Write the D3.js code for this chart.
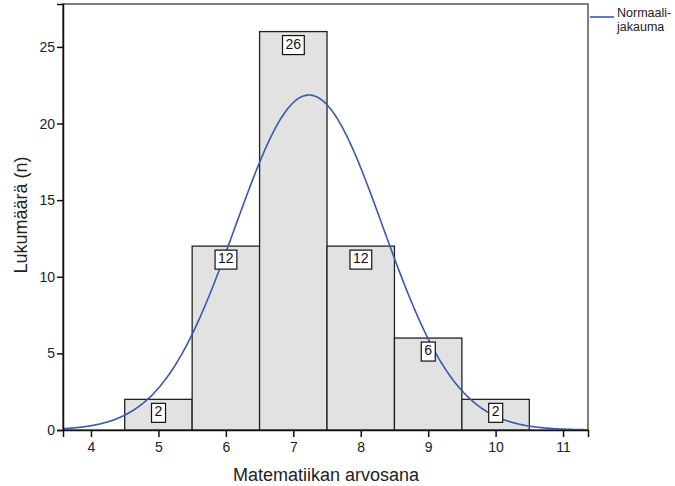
<!DOCTYPE html>
<html>
<head>
<meta charset="utf-8">
<script src="https://cdn.jsdelivr.net/npm/d3@7"></script>
<style>
  body { margin: 0; background: #fff; }
  svg { font-family: Arial, "Liberation Sans", sans-serif; }
</style>
</head>
<body>
<svg id="chart" width="675" height="486"></svg>
<script>
// histogram bins (grade midpoints) and counts
var grades = [5, 6, 7, 8, 9, 10];
var counts = [2, 12, 26, 12, 6, 2];
var xTicks = [4, 5, 6, 7, 8, 9, 10, 11];
var yTicks = [0, 5, 10, 15, 20, 25];

var frame = { left: 63, right: 588, top: 4, bottom: 430 };

var svg = d3.select('#chart');

var x = d3.scaleLinear().domain([3.585, 11.37]).range([frame.left, frame.right]);
var y = d3.scaleLinear().domain([0, 27.8]).range([frame.bottom, frame.top]);

// fitted normal curve from the binned data
var n = d3.sum(counts);
var mean = d3.sum(grades, (g, i) => g * counts[i]) / n;
var ss = d3.sum(grades, (g, i) => counts[i] * (g - mean) * (g - mean));
var sd = Math.sqrt(ss / (n - 1));
var normal = v => n / (sd * Math.sqrt(2 * Math.PI)) * Math.exp(-((v - mean) ** 2) / (2 * sd * sd));

// frame
svg.append('rect')
    .attr('x', frame.left).attr('y', frame.top)
    .attr('width', frame.right - frame.left)
    .attr('height', frame.bottom - frame.top)
    .attr('fill', 'none').attr('stroke', '#555').attr('stroke-width', 1.5);

// bars
svg.append('g')
    .selectAll('rect')
    .data(grades)
    .join('rect')
    .attr('x', d => x(d - 0.5))
    .attr('y', (d, i) => y(counts[i]))
    .attr('width', d => x(d + 0.5) - x(d - 0.5))
    .attr('height', (d, i) => y(0) - y(counts[i]))
    .attr('fill', '#e2e2e2')
    .attr('stroke', '#222')
    .attr('stroke-width', 1.3);

// normal curve
var xs = d3.range(x.domain()[0], x.domain()[1], 0.02);
svg.append('path')
    .datum(xs)
    .attr('fill', 'none')
    .attr('stroke', '#3b58b0')
    .attr('stroke-width', 1.6)
    .attr('d', d3.line().x(d => x(d)).y(d => y(normal(d))).curve(d3.curveBasis));

// value labels
var lab = svg.append('g').selectAll('g')
    .data(grades)
    .join('g')
    .attr('transform', (d, i) => `translate(${x(d)},${y(counts[i]) + 17})`);
lab.append('text')
    .attr('text-anchor', 'middle')
    .attr('font-size', 14)
    .attr('fill', '#111')
    .text((d, i) => counts[i]);
lab.each(function() {
    var g = d3.select(this);
    var bb = g.select('text').node().getBBox();
    g.insert('rect', 'text')
        .attr('x', bb.x - 3).attr('y', -13)
        .attr('width', bb.width + 6).attr('height', 19)
        .attr('fill', '#fff').attr('stroke', '#111').attr('stroke-width', 1.2);
});

// axes
var yAxis = svg.append('g')
    .attr('transform', `translate(${frame.left},0)`)
    .call(d3.axisLeft(y).tickValues(yTicks).tickSize(6).tickPadding(2));
var xAxis = svg.append('g')
    .attr('transform', `translate(0,${frame.bottom})`)
    .call(d3.axisBottom(x).tickValues(xTicks).tickSize(7).tickPadding(5));
[xAxis, yAxis].forEach(a => {
    a.select('.domain').attr('stroke', '#111').attr('stroke-width', 1.5);
    a.selectAll('.tick line').attr('stroke', '#111').attr('stroke-width', 1.5);
    a.selectAll('.tick text').attr('font-size', 14).attr('font-family', 'Arial, "Liberation Sans", sans-serif').attr('fill', '#222');
});

// axis titles
svg.append('text')
    .attr('x', 326).attr('y', 481)
    .attr('text-anchor', 'middle').attr('font-size', 18).attr('fill', '#222')
    .text('Matematiikan arvosana');
svg.append('text')
    .attr('transform', `translate(27,215) rotate(-90)`)
    .attr('text-anchor', 'middle').attr('font-size', 18).attr('fill', '#222')
    .text('Lukumäärä (n)');

// legend
svg.append('line')
    .attr('x1', 590).attr('x2', 614).attr('y1', 17).attr('y2', 17)
    .attr('stroke', '#3b58b0').attr('stroke-width', 1.6);
var lt = svg.append('text').attr('font-size', 12.5).attr('fill', '#222');
lt.append('tspan').attr('x', 617).attr('y', 17).text('Normaali-');
lt.append('tspan').attr('x', 617).attr('y', 31).text('jakauma');
</script>
</body>
</html>
